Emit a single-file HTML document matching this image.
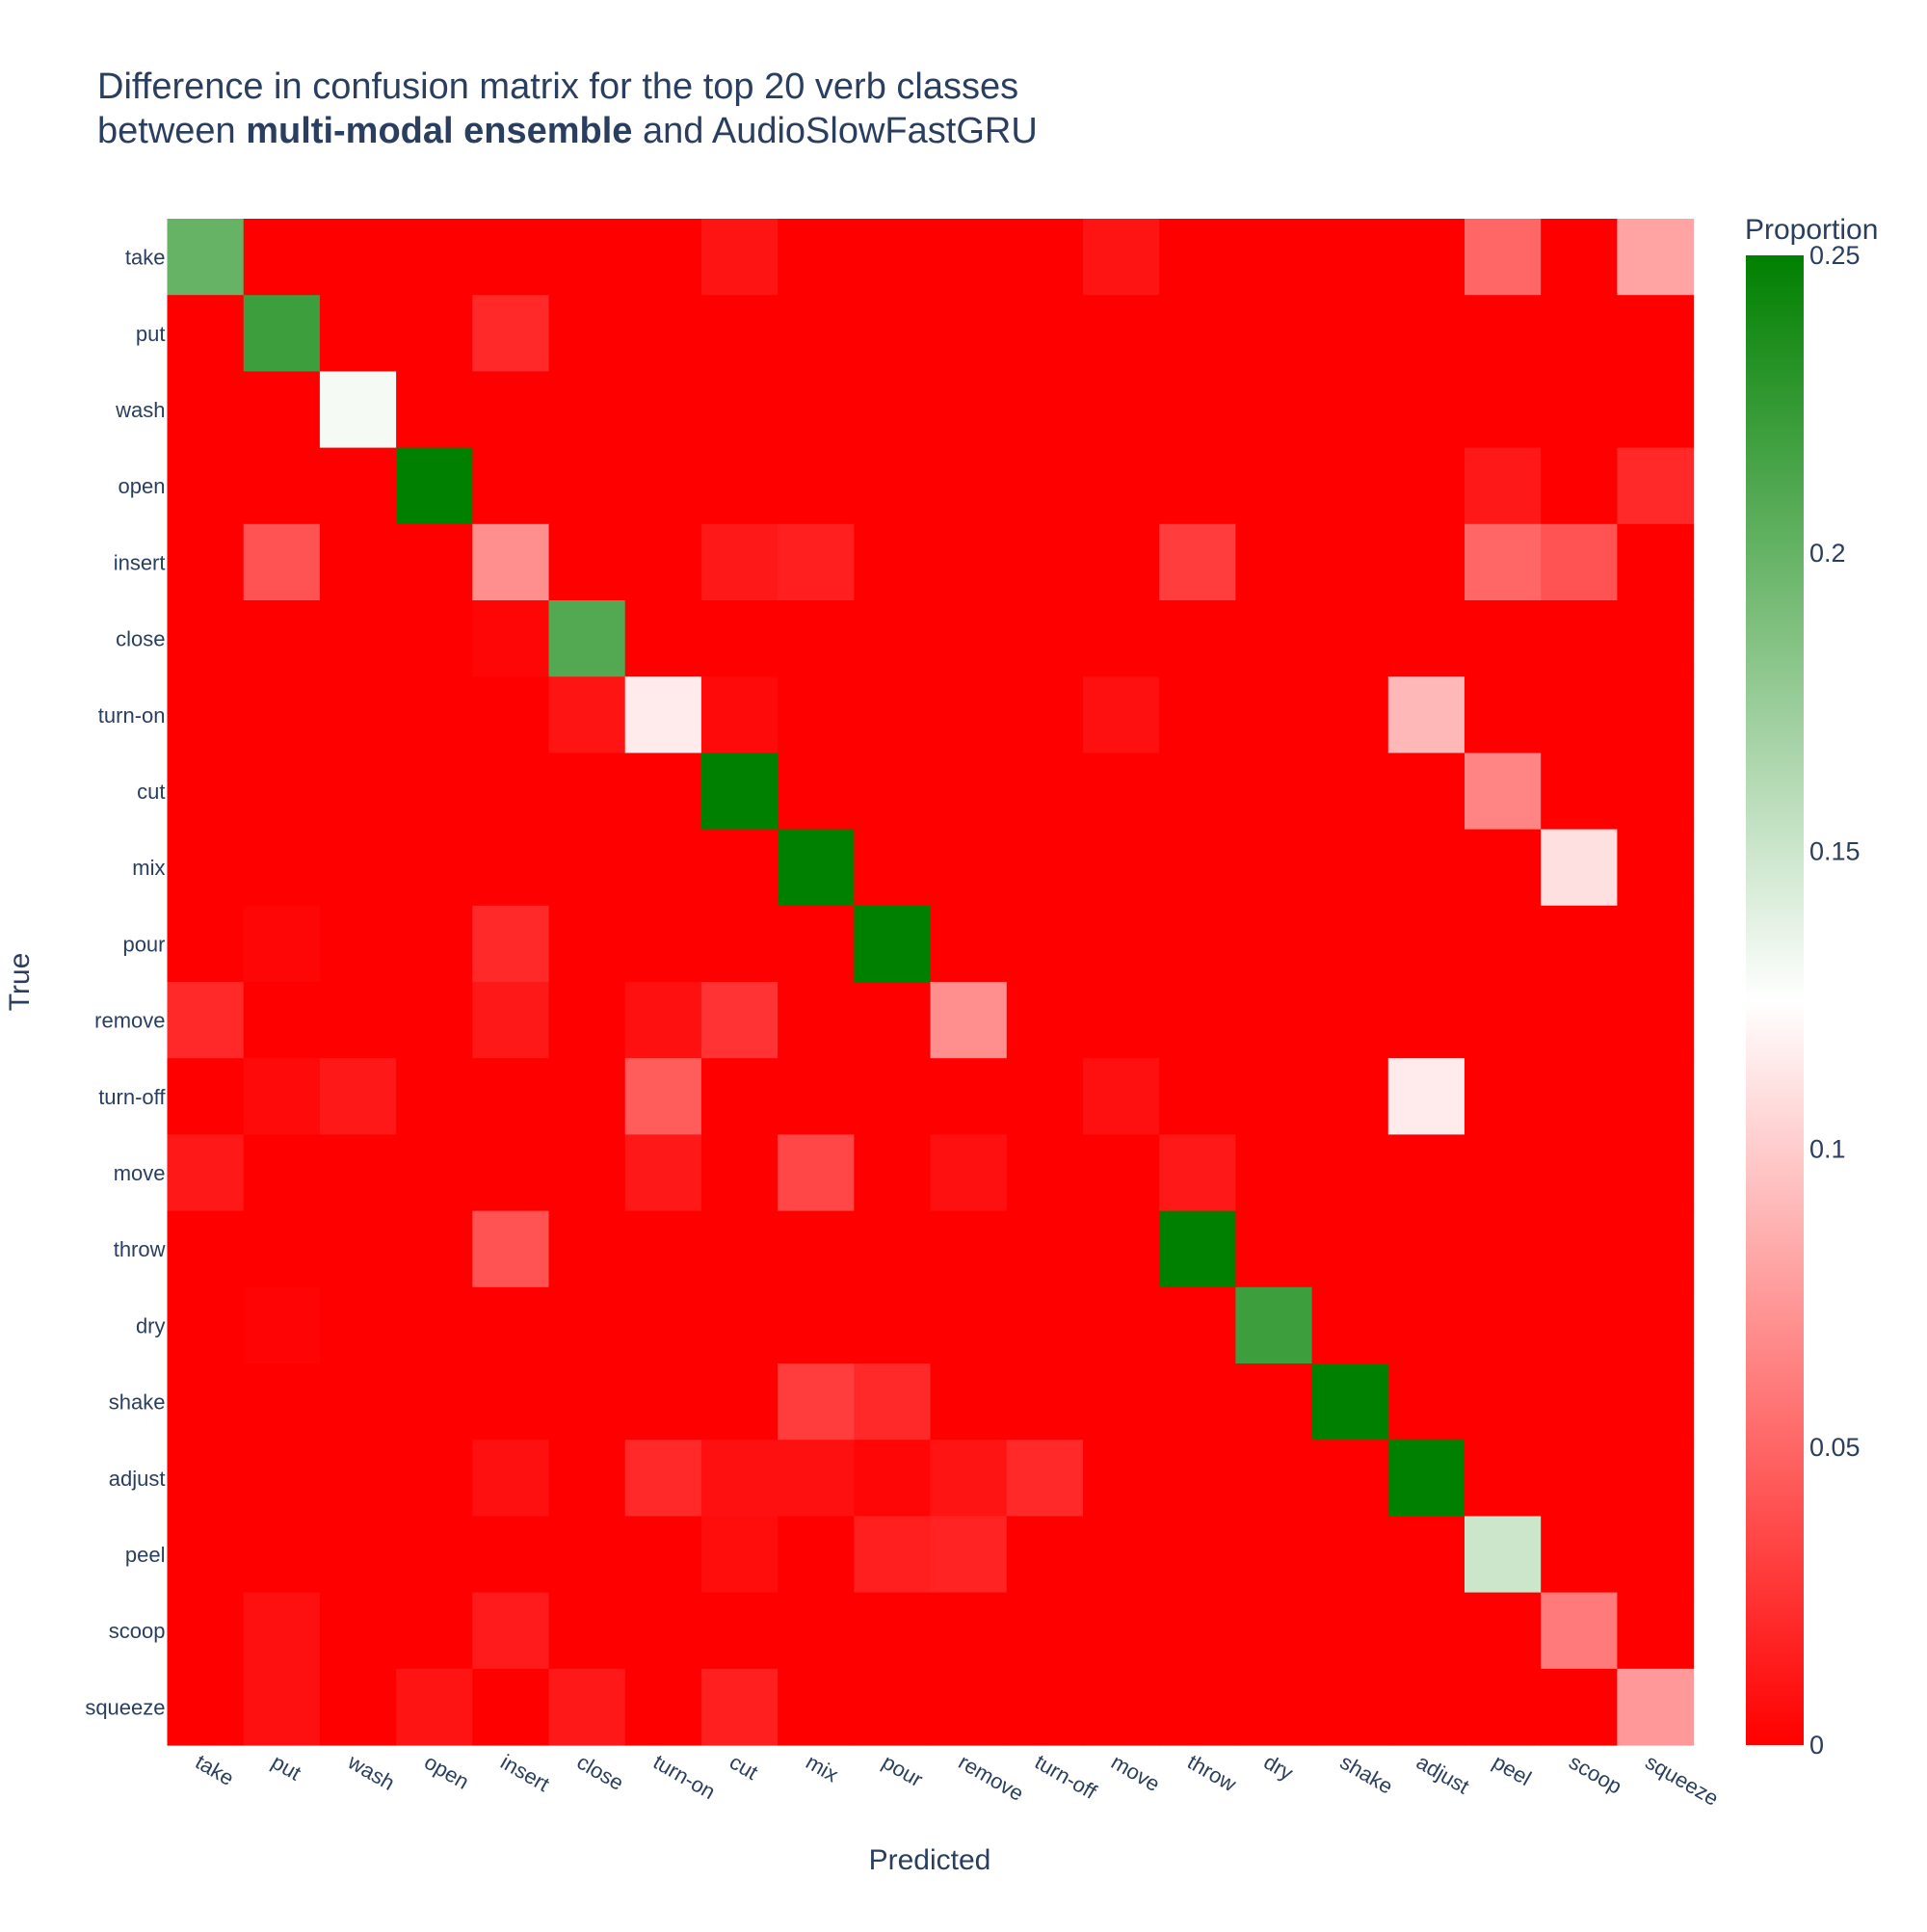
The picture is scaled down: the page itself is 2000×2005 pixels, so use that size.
<!DOCTYPE html>
<html><head><meta charset="utf-8"><style>
body{margin:0;background:#fff;}
svg text{font-family:"Liberation Sans",sans-serif;fill:#2a3f5f;}
</style></head><body>
<svg id="chart" width="2000" height="2000" viewBox="0 0 2000 2000">
<text x="101" y="102" font-size="38">Difference in confusion matrix for the top 20 verb classes</text>
<text x="101" y="148" font-size="38">between <tspan font-weight="bold">multi-modal ensemble</tspan> and AudioSlowFastGRU</text>
<g id="cells"></g>
<g id="xticks"></g>
<g id="yticks"></g>
<text x="965" y="1940" font-size="30" text-anchor="middle">Predicted</text>
<text transform="translate(30,1019) rotate(-90)" font-size="30" text-anchor="middle">True</text>
<defs><linearGradient id="cg" x1="0" y1="1" x2="0" y2="0">
<stop offset="0" stop-color="rgb(255,0,0)"/><stop offset="0.5" stop-color="rgb(255,255,255)"/><stop offset="1" stop-color="rgb(0,128,0)"/></linearGradient></defs>
<text x="1811" y="248" font-size="30">Proportion</text>
<rect x="1812" y="265" width="60" height="1546" fill="url(#cg)"/>
<g id="cbticks"></g>
</svg>
<script>
const categories=["take","put","wash","open","insert","close","turn-on","cut","mix","pour","remove","turn-off","move","throw","dry","shake","adjust","peel","scoop","squeeze"];
const cbTickValues=[0,0.05,0.1,0.15,0.2,0.25];
const cbTickLabels=["0","0.05","0.1","0.15","0.2","0.25"];
const rowTake=[0.2,0,0,0,0,0,0,0.01,0,0,0,0,0.01,0,0,0,0,0.05,0,0.08];
const rowPut=[0,0.22,0,0,0.02,0,0,0,0,0,0,0,0,0,0,0,0,0,0,0];
const rowWash=[0,0,0.13,0,0,0,0,0,0,0,0,0,0,0,0,0,0,0,0,0];
const rowOpen=[0,0,0,0.25,0,0,0,0,0,0,0,0,0,0,0,0,0,0.012,0,0.02];
const rowInsert=[0,0.04,0,0,0.07,0,0,0.012,0.015,0,0,0,0,0.03,0,0,0,0.05,0.04,0];
const rowClose=[0,0,0,0,0.003,0.21,0,0,0,0,0,0,0,0,0,0,0,0,0,0];
const rowTurnOn=[0,0,0,0,0,0.01,0.115,0.005,0,0,0,0,0.008,0,0,0,0.09,0,0,0];
const rowCut=[0,0,0,0,0,0,0,0.25,0,0,0,0,0,0,0,0,0,0.065,0,0];
const rowMix=[0,0,0,0,0,0,0,0,0.25,0,0,0,0,0,0,0,0,0,0.11,0];
const rowPour=[0,0.003,0,0,0.02,0,0,0,0,0.25,0,0,0,0,0,0,0,0,0,0];
const rowRemove=[0.02,0,0,0,0.012,0,0.008,0.025,0,0,0.07,0,0,0,0,0,0,0,0,0];
const rowTurnOff=[0,0.005,0.012,0,0,0,0.045,0,0,0,0,0,0.008,0,0,0,0.115,0,0,0];
const rowMove=[0.012,0,0,0,0,0,0.012,0,0.035,0,0.008,0,0,0.012,0,0,0,0,0,0];
const rowThrow=[0,0,0,0,0.04,0,0,0,0,0,0,0,0,0.25,0,0,0,0,0,0];
const rowDry=[0,0.002,0,0,0,0,0,0,0,0,0,0,0,0,0.22,0,0,0,0,0];
const rowShake=[0,0,0,0,0,0,0,0,0.03,0.02,0,0,0,0,0,0.25,0,0,0,0];
const rowAdjust=[0,0,0,0,0.008,0,0.02,0.008,0.008,0.003,0.01,0.02,0,0,0,0,0.25,0,0,0];
const rowPeel=[0,0,0,0,0,0,0,0.006,0,0.015,0.017,0,0,0,0,0,0,0.15,0,0];
const rowScoop=[0,0.008,0,0,0.013,0,0,0,0,0,0,0,0,0,0,0,0,0,0.06,0];
const rowSqueeze=[0,0.008,0,0.01,0,0.012,0,0.015,0,0,0,0,0,0,0,0,0,0,0,0.075];
const matrix=[rowTake,rowPut,rowWash,rowOpen,rowInsert,rowClose,rowTurnOn,rowCut,rowMix,rowPour,rowRemove,rowTurnOff,rowMove,rowThrow,rowDry,rowShake,rowAdjust,rowPeel,rowScoop,rowSqueeze];
const NS="http://www.w3.org/2000/svg";
const X0=173.5,X1=1757.6,Y0=227,Y1=1811,ZMAX=0.25;
const n=categories.length,cw=(X1-X0)/n,ch=(Y1-Y0)/n;
const xPos=i=>X0+i*cw, yPos=j=>Y0+j*ch;
function color(v){let t=Math.max(0,Math.min(1,v/ZMAX));
 if(t<=0.5){const k=t/0.5;return `rgb(255,${Math.round(255*k)},${Math.round(255*k)})`;}
 const k=(t-0.5)/0.5;return `rgb(${Math.round(255*(1-k))},${Math.round(255-127*k)},${Math.round(255*(1-k))})`;}
const cells=document.getElementById('cells');
matrix.forEach((row,j)=>row.forEach((v,i)=>{
 const r=document.createElementNS(NS,'rect');
 r.setAttribute('x',xPos(i));r.setAttribute('y',yPos(j));
 r.setAttribute('width',cw+0.6);r.setAttribute('height',ch+0.6);
 r.setAttribute('fill',color(v));
 
 
 cells.appendChild(r);}));
const xt=document.getElementById('xticks'),yt=document.getElementById('yticks');
categories.forEach((c,i)=>{
 const t=document.createElementNS(NS,'text');
 const cx=xPos(i)+cw/2-12,cy=Y1+22;
 t.setAttribute('transform',`translate(${cx},${cy}) rotate(30)`);
 t.setAttribute('font-size','22');t.textContent=c;
 
 
 xt.appendChild(t);
 const y=document.createElementNS(NS,'text');
 y.setAttribute('x',X0-2);y.setAttribute('y',yPos(i)+ch/2+8);
 y.setAttribute('text-anchor','end');y.setAttribute('font-size','22');y.textContent=c;
 
 
 yt.appendChild(y);});
const cb=document.getElementById('cbticks');
cbTickValues.forEach((v,k)=>{
 const y=1811-(v/ZMAX)*1546;
 const t=document.createElementNS(NS,'text');
 t.setAttribute('x',1878);t.setAttribute('y',y+9);t.setAttribute('font-size','27');
 t.textContent=cbTickLabels[k];
 
 
 cb.appendChild(t);});
</script>
</body></html>
